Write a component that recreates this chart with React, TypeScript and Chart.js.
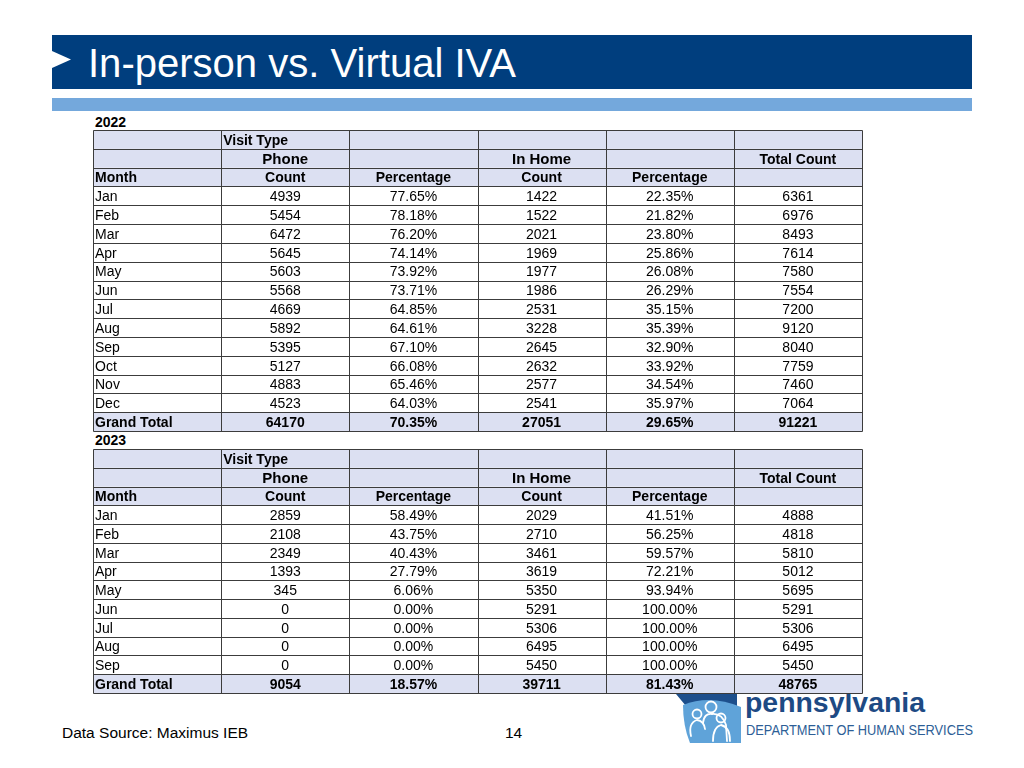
import React, { useEffect, useRef } from "react";
import { Chart, registerables } from "chart.js";

Chart.register(...registerables);

// ---------- DATA ----------
const HEADER_VISIT = ["", "Visit Type", "", "", "", ""];
const HEADER_TYPE = ["", "Phone", "", "In Home", "", "Total Count"];
const HEADER_FIELD = ["Month", "Count", "Percentage", "Count", "Percentage", ""];

const MONTHS_2022 = ["Jan", "Feb", "Mar", "Apr", "May", "Jun", "Jul", "Aug", "Sep", "Oct", "Nov", "Dec"];
const PHONE_COUNT_2022 = [4939, 5454, 6472, 5645, 5603, 5568, 4669, 5892, 5395, 5127, 4883, 4523];
const PHONE_PCT_2022 = [77.65, 78.18, 76.2, 74.14, 73.92, 73.71, 64.85, 64.61, 67.1, 66.08, 65.46, 64.03];
const HOME_COUNT_2022 = [1422, 1522, 2021, 1969, 1977, 1986, 2531, 3228, 2645, 2632, 2577, 2541];
const HOME_PCT_2022 = [22.35, 21.82, 23.8, 25.86, 26.08, 26.29, 35.15, 35.39, 32.9, 33.92, 34.54, 35.97];
const TOTAL_2022 = [6361, 6976, 8493, 7614, 7580, 7554, 7200, 9120, 8040, 7759, 7460, 7064];
const GRAND_2022 = { phone: 64170, phonePct: 70.35, home: 27051, homePct: 29.65, total: 91221 };

const MONTHS_2023 = ["Jan", "Feb", "Mar", "Apr", "May", "Jun", "Jul", "Aug", "Sep"];
const PHONE_COUNT_2023 = [2859, 2108, 2349, 1393, 345, 0, 0, 0, 0];
const PHONE_PCT_2023 = [58.49, 43.75, 40.43, 27.79, 6.06, 0, 0, 0, 0];
const HOME_COUNT_2023 = [2029, 2710, 3461, 3619, 5350, 5291, 5306, 6495, 5450];
const HOME_PCT_2023 = [41.51, 56.25, 59.57, 72.21, 93.94, 100, 100, 100, 100];
const TOTAL_2023 = [4888, 4818, 5810, 5012, 5695, 5291, 5306, 6495, 5450];
const GRAND_2023 = { phone: 9054, phonePct: 18.57, home: 39711, homePct: 81.43, total: 48765 };

// ---------- STYLE ----------
const FONT = "'Liberation Sans', Arial, Helvetica, sans-serif";
const HEADER_FILL = "#dce0f2";
const BORDER = "#3c3c3c";
const NCOLS = 6;

type Row = { kind: "visit" | "type" | "field" | "data" | "total"; cells: string[] };

const pct = (v: number) => v.toFixed(2) + "%";

function buildRows(
  months: string[],
  pc: number[],
  pp: number[],
  hc: number[],
  hp: number[],
  tot: number[],
  grand: { phone: number; phonePct: number; home: number; homePct: number; total: number }
): Row[] {
  const rows: Row[] = [
    { kind: "visit", cells: HEADER_VISIT },
    { kind: "type", cells: HEADER_TYPE },
    { kind: "field", cells: HEADER_FIELD },
  ];
  months.forEach((m, i) => {
    rows.push({ kind: "data", cells: [m, String(pc[i]), pct(pp[i]), String(hc[i]), pct(hp[i]), String(tot[i])] });
  });
  rows.push({
    kind: "total",
    cells: ["Grand Total", String(grand.phone), pct(grand.phonePct), String(grand.home), pct(grand.homePct), String(grand.total)],
  });
  return rows;
}

const ROWS_2022 = buildRows(MONTHS_2022, PHONE_COUNT_2022, PHONE_PCT_2022, HOME_COUNT_2022, HOME_PCT_2022, TOTAL_2022, GRAND_2022);
const ROWS_2023 = buildRows(MONTHS_2023, PHONE_COUNT_2023, PHONE_PCT_2023, HOME_COUNT_2023, HOME_PCT_2023, TOTAL_2023, GRAND_2023);

function cellFont(kind: Row["kind"], text: string) {
  if (kind === "data") return `14px ${FONT}`;
  if (kind === "type" && (text === "Phone" || text === "In Home")) return `bold 15px ${FONT}`;
  return `bold 14px ${FONT}`;
}

function TableChart({ rows, left, top, width, height }: { rows: Row[]; left: number; top: number; width: number; height: number }) {
  const ref = useRef<HTMLCanvasElement>(null);
  useEffect(() => {
    if (!ref.current) return;
    const points: { x: number; y: number }[] = [];
    const labels: { text: string; font: string; left: boolean; col: number }[] = [];
    rows.forEach((row, r) =>
      row.cells.forEach((text, c) => {
        points.push({ x: c + 0.5, y: r + 0.5 });
        labels.push({ text, font: cellFont(row.kind, text), left: c === 0 || (row.kind === "visit" && c === 1), col: c });
      })
    );
    const tablePlugin = {
      id: "tableCells",
      beforeDatasetsDraw(chart: any) {
        const { ctx } = chart;
        const xs = chart.scales.x;
        const ys = chart.scales.y;
        ctx.save();
        const x0 = xs.getPixelForValue(0);
        const x1 = xs.getPixelForValue(NCOLS);
        rows.forEach((row, r) => {
          if (row.kind !== "data") {
            const y0 = ys.getPixelForValue(r);
            const y1 = ys.getPixelForValue(r + 1);
            ctx.fillStyle = HEADER_FILL;
            ctx.fillRect(x0, y0, x1 - x0, y1 - y0);
          }
        });
        ctx.strokeStyle = BORDER;
        ctx.lineWidth = 1;
        ctx.beginPath();
        const yTop = Math.round(ys.getPixelForValue(0)) + 0.5;
        const yBot = Math.round(ys.getPixelForValue(rows.length)) + 0.5;
        const xL = Math.round(x0) + 0.5;
        const xR = Math.round(x1) + 0.5;
        for (let r = 0; r <= rows.length; r++) {
          const py = Math.round(ys.getPixelForValue(r)) + 0.5;
          ctx.moveTo(xL, py);
          ctx.lineTo(xR, py);
        }
        for (let c = 0; c <= NCOLS; c++) {
          const px = Math.round(xs.getPixelForValue(c)) + 0.5;
          ctx.moveTo(px, yTop);
          ctx.lineTo(px, yBot);
        }
        ctx.stroke();
        ctx.restore();
      },
      afterDatasetsDraw(chart: any) {
        const { ctx } = chart;
        const xs = chart.scales.x;
        const meta = chart.getDatasetMeta(0);
        ctx.save();
        ctx.fillStyle = "#000";
        ctx.textBaseline = "middle";
        meta.data.forEach((el: any, i: number) => {
          const lab = labels[i];
          if (!lab.text) return;
          ctx.font = lab.font;
          if (lab.left) {
            ctx.textAlign = "left";
            ctx.fillText(lab.text, xs.getPixelForValue(lab.col) + 2, el.y + 1.5);
          } else {
            ctx.textAlign = "center";
            ctx.fillText(lab.text, el.x, el.y + 1.5);
          }
        });
        ctx.restore();
      },
    };
    const chart = new Chart(ref.current, {
      type: "scatter",
      data: { datasets: [{ data: points, pointRadius: 0, pointHoverRadius: 0 }] },
      options: {
        responsive: false,
        animation: false,
        events: [],
        layout: { padding: 2 },
        plugins: { legend: { display: false }, tooltip: { enabled: false }, title: { display: false } },
        scales: {
          x: { type: "linear", min: 0, max: NCOLS, display: false },
          y: { type: "linear", min: 0, max: rows.length, reverse: true, display: false },
        },
      },
      plugins: [tablePlugin],
    } as any);
    return () => chart.destroy();
  }, [rows]);
  return (
    <canvas
      ref={ref}
      width={width}
      height={height}
      style={{ position: "absolute", left, top, width, height, display: "block" }}
    />
  );
}

export default function App() {
  return (
    <div
      style={{
        position: "fixed",
        left: 0,
        top: 0,
        width: 1024,
        height: 768,
        background: "#fff",
        overflow: "hidden",
        fontFamily: FONT,
      }}
    >
      <svg width={1024} height={768} style={{ position: "absolute", left: 0, top: 0 }} fontFamily={FONT}>
        <rect x={52} y={35} width={920} height={54} fill="#003e7e" />
        <polygon points="52,51 71,59.5 52,68" fill="#ffffff" />
        <text x={88} y={77} fill="#ffffff" fontSize={40} textLength={428} lengthAdjust="spacingAndGlyphs">
          In-person vs. Virtual IVA
        </text>
        <rect x={52} y={98} width={920} height={13} fill="#74a8dc" />
        <text x={95} y={126.5} fontSize={14} fontWeight="bold" fill="#000">
          2022
        </text>
        <text x={95} y={445} fontSize={14} fontWeight="bold" fill="#000">
          2023
        </text>
        <text x={62} y={738} fontSize={15.5} fill="#000">
          Data Source: Maximus IEB
        </text>
        <text x={505} y={738} fontSize={15.5} fill="#000">
          14
        </text>
        {/* logo */}
        <path d="M676 694 L737 694 L737 707 Q712 697 686 706 Z" fill="#1d4f8c" />
        <path d="M683 705 Q710 694 741 707 L741 743 L690 743 Q683 726 683 705 Z" fill="#5fa3d9" />
        <g fill="none" stroke="#ffffff" strokeWidth={1.8} strokeLinecap="round">
          <circle cx={697} cy={714} r={4.5} />
          <circle cx={711} cy={707} r={5.5} />
          <circle cx={721} cy={718} r={4.5} />
          <path d="M691 736 Q688 723 697 720 Q704 721 705 729" />
          <path d="M703 723 Q704 713 712 714 Q722 713 726 725 L727 741" />
          <path d="M713 741 Q713 727 721 725 Q730 727 730 741" />
        </g>
        <text x={745} y={712} fontSize={27} fontWeight="bold" fill="#1d4a84" textLength={180} lengthAdjust="spacingAndGlyphs">
          pennsylvania
        </text>
        <text x={746} y={735} fontSize={14} fill="#2d5e96" textLength={227} lengthAdjust="spacingAndGlyphs">
          DEPARTMENT OF HUMAN SERVICES
        </text>
      </svg>
      <TableChart rows={ROWS_2022} left={91} top={128} width={773} height={305} />
      <TableChart rows={ROWS_2023} left={91} top={447} width={773} height={248} />
    </div>
  );
}
